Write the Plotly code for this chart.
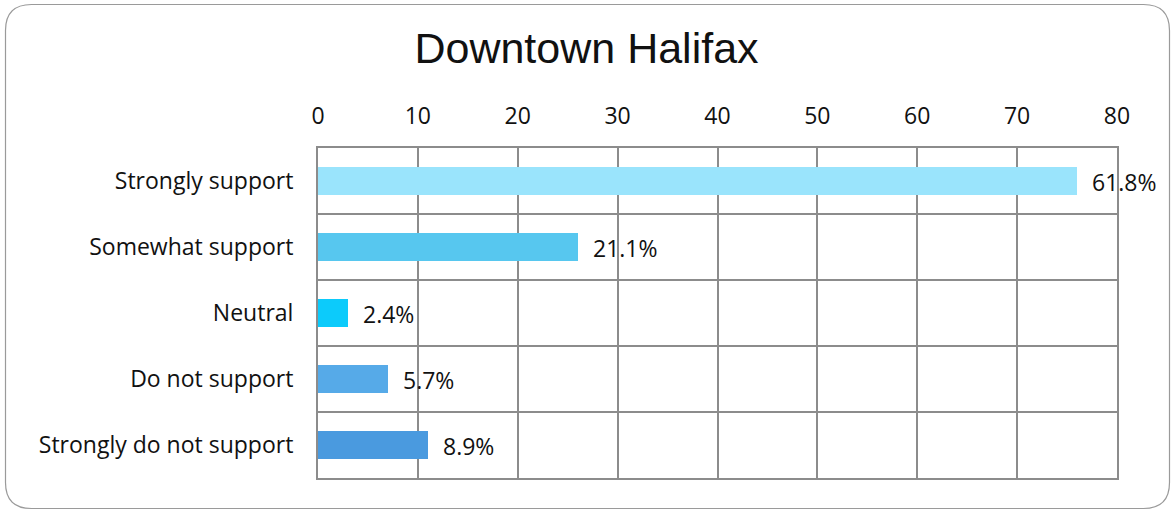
import plotly.graph_objects as go

categories = ["Strongly support", "Somewhat support", "Neutral", "Do not support", "Strongly do not support"]
counts = [76, 26, 3, 7, 11]
pct_labels = ["61.8%", "21.1%", "2.4%", "5.7%", "8.9%"]
colors = ["#9AE4FC", "#57C7EF", "#0CCBFB", "#56AAE8", "#4A9ADF"]
x_ticks = [0, 10, 20, 30, 40, 50, 60, 70, 80]

W, H = 1173, 510
L, R, T, B = 318, 1117, 148, 478
FONT = "Open Sans"
FS = 23

def px(x):
    return (x - L) / (R - L)

def py(y):
    return (B - y) / (B - T)

fig = go.Figure()
fig.add_trace(go.Bar(
    y=categories, x=counts, orientation="h",
    marker=dict(color=colors, line=dict(width=0)),
    width=0.41, cliponaxis=False, hoverinfo="skip",
))

for c, v, t in zip(categories, counts, pct_labels):
    fig.add_annotation(x=v, y=c, text=t, showarrow=False, xanchor="left",
                       xshift=13, yshift=-1, font=dict(size=FS, color="#111", family=FONT))

# rounded outer border
x0, y0, x1, y1, r = 5.5, 4.5, 1169.5, 508.5, 26
pts = [
    f"M {px(x0 + r)},{py(y0)}",
    f"L {px(x1 - r)},{py(y0)}",
    f"Q {px(x1)},{py(y0)} {px(x1)},{py(y0 + r)}",
    f"L {px(x1)},{py(y1 - r)}",
    f"Q {px(x1)},{py(y1)} {px(x1 - r)},{py(y1)}",
    f"L {px(x0 + r)},{py(y1)}",
    f"Q {px(x0)},{py(y1)} {px(x0)},{py(y1 - r)}",
    f"L {px(x0)},{py(y0 + r)}",
    f"Q {px(x0)},{py(y0)} {px(x0 + r)},{py(y0)}",
    "Z",
]
fig.add_shape(type="path", path=" ".join(pts), xref="paper", yref="paper",
              line=dict(color="#9a9a9a", width=1.2), layer="below")

fig.update_layout(
    width=W, height=H,
    margin=dict(l=L, r=W - R, t=T, b=H - B),
    paper_bgcolor="white", plot_bgcolor="white",
    showlegend=False,
    title=dict(text="Downtown Halifax", x=0.5, xref="container", xanchor="center",
               y=1 - 48 / H, yanchor="middle",
               font=dict(family="Liberation Sans", size=43, color="#111")),
    xaxis=dict(side="top", range=[0, 80], tickvals=x_ticks, showgrid=True,
               gridcolor="#8c8c8c", gridwidth=2, showline=True, linecolor="#8c8c8c",
               linewidth=2, mirror=True, zeroline=False, ticks="",
               ticklabelstandoff=13,
               tickfont=dict(family=FONT, size=FS, color="#111")),
    yaxis=dict(autorange="reversed", type="category", tickson="boundaries",
               showgrid=True, gridcolor="#8c8c8c", gridwidth=2, showline=True,
               linecolor="#8c8c8c", linewidth=2, mirror=True, ticks="",
               ticklabelstandoff=18,
               tickfont=dict(family=FONT, size=FS, color="#111")),
    bargap=0,
)

fig.write_html("out.html", config={"displayModeBar": False},
               post_script="document.body.style.margin='0';")
